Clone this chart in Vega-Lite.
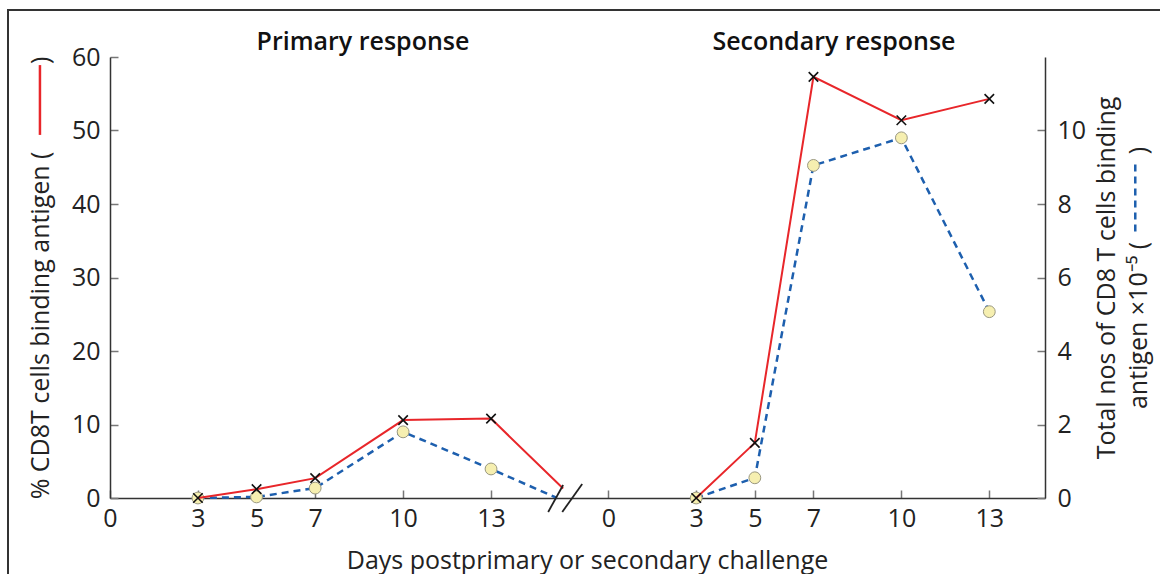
{
  "$schema": "https://vega.github.io/schema/vega-lite/v6.json",
  "width": 935,
  "height": 441,
  "autosize": "none",
  "padding": {"left": 110, "top": 57, "right": 115, "bottom": 76},
  "background": "white",
  "config": {
    "view": {"stroke": null},
    "font": "Open Sans",
    "axis": {
      "labelFont": "Open Sans",
      "titleFont": "Open Sans",
      "labelFontSize": 25,
      "titleFontSize": 25,
      "titleFontWeight": "normal",
      "labelColor": "#222",
      "titleColor": "#222",
      "domainColor": "#333",
      "domainWidth": 1.5,
      "tickColor": "#777",
      "tickWidth": 1.5,
      "tickSize": -8,
      "labelFlush": false,
      "grid": false
    },
    "axisBottom": {"ticks": true, "tickSize": -8, "tickColor": "#777", "tickWidth": 1.5}
  },
  "datasets": {
    "pct": [
      {"phase": "primary", "day": 3, "x": 3, "value": 0},
      {"phase": "primary", "day": 5, "x": 5, "value": 1.2},
      {"phase": "primary", "day": 7, "x": 7, "value": 2.7},
      {"phase": "primary", "day": 10, "x": 10, "value": 10.6},
      {"phase": "primary", "day": 13, "x": 13, "value": 10.8},
      {"phase": "primary", "day": null, "x": 15.46, "value": 1.3},
      {"phase": "secondary", "day": 3, "x": 20, "value": 0},
      {"phase": "secondary", "day": 5, "x": 22, "value": 7.5},
      {"phase": "secondary", "day": 7, "x": 24, "value": 57.3},
      {"phase": "secondary", "day": 10, "x": 27, "value": 51.4},
      {"phase": "secondary", "day": 13, "x": 30, "value": 54.3}
    ],
    "tot": [
      {"phase": "primary", "day": 3, "x": 3, "value": 0},
      {"phase": "primary", "day": 5, "x": 5, "value": 0.03},
      {"phase": "primary", "day": 7, "x": 7, "value": 0.27},
      {"phase": "primary", "day": 10, "x": 10, "value": 1.8},
      {"phase": "primary", "day": 13, "x": 13, "value": 0.79},
      {"phase": "primary", "day": null, "x": 15.25, "value": 0},
      {"phase": "secondary", "day": 3, "x": 20, "value": 0},
      {"phase": "secondary", "day": 5, "x": 22, "value": 0.55},
      {"phase": "secondary", "day": 7, "x": 24, "value": 9.05},
      {"phase": "secondary", "day": 10, "x": 27, "value": 9.8},
      {"phase": "secondary", "day": 13, "x": 30, "value": 5.07}
    ],
    "one": [{"k": 1}]
  },
  "layer": [
    {
      "layer": [
        {
          "data": {"name": "tot"},
          "mark": {"type": "line", "color": "#1d5fae", "strokeWidth": 2.5, "strokeDash": [7, 5]},
          "encoding": {
            "x": {"field": "x", "type": "quantitative", "scale": {"domain": [0, 31.9], "nice": false, "zero": false}, "title": "Days postprimary or secondary challenge",
              "axis": {"orient": "bottom", "values": [0, 3, 5, 7, 10, 13, 17, 20, 22, 24, 27, 30], "labelExpr": "datum.value >= 17 ? datum.value - 17 : datum.value", "ticks": true, "tickSize": -8, "tickColor": "#777", "tickWidth": 1.5, "labelPadding": 16, "titlePadding": 17, "titleX": 477}},
            "y": {"field": "value", "type": "quantitative", "scale": {"domain": [0, 12], "nice": false},
              "title": ["Total nos of CD8 T cells binding", "antigen  ×10⁻⁵ (\u2003\u2003\u2003\u2002)"],
              "axis": {"orient": "right", "values": [0, 2, 4, 6, 8, 10], "labelPadding": 20, "titlePadding": 2, "titleAngle": 270, "titleLineHeight": 32}},
            "detail": {"field": "phase"}
          }
        },
        {
          "data": {"name": "tot"},
          "transform": [{"filter": "isValid(datum.day)"}],
          "mark": {"type": "point", "shape": "circle", "filled": true, "fill": "#f6efb0", "stroke": "#9a9880", "strokeWidth": 1, "size": 140, "opacity": 1},
          "encoding": {
            "x": {"field": "x", "type": "quantitative"},
            "y": {"field": "value", "type": "quantitative"}
          }
        },
        {
          "data": {"name": "one"},
          "mark": {"type": "rule", "color": "#1d5fae", "strokeWidth": 2.5, "strokeDash": [7, 5]},
          "encoding": {
            "x": {"datum": 34.98, "type": "quantitative"},
            "y": {"datum": 7.25, "type": "quantitative"},
            "y2": {"datum": 9.2}
          }
        }
      ]
    },
    {
      "layer": [
        {
          "data": {"name": "pct"},
          "mark": {"type": "line", "color": "#e8262a", "strokeWidth": 2},
          "encoding": {
            "x": {"field": "x", "type": "quantitative"},
            "y": {"field": "value", "type": "quantitative", "scale": {"domain": [0, 60], "nice": false},
              "title": "% CD8T cells binding antigen (\u2003\u2003\u2003\u2002)",
              "axis": {"orient": "left", "values": [0, 10, 20, 30, 40, 50, 60], "labelPadding": 18, "titlePadding": 18}},
            "detail": {"field": "phase"}
          }
        },
        {
          "data": {"name": "pct"},
          "transform": [{"filter": "isValid(datum.day)"}],
          "mark": {"type": "point", "shape": "M-1,-1L1,1M-1,1L1,-1", "filled": false, "stroke": "#111", "strokeWidth": 1.6, "size": 90, "opacity": 1},
          "encoding": {
            "x": {"field": "x", "type": "quantitative"},
            "y": {"field": "value", "type": "quantitative"}
          }
        },
        {
          "data": {"name": "one"},
          "mark": {"type": "rule", "color": "#e8262a", "strokeWidth": 2.5},
          "encoding": {
            "x": {"datum": -2.39, "type": "quantitative"},
            "y": {"datum": 49.4, "type": "quantitative"},
            "y2": {"datum": 58.9}
          }
        },
        {
          "data": {"name": "one"},
          "mark": {"type": "rect", "filled": false, "stroke": "#333", "strokeWidth": 2},
          "encoding": {
            "x": {"datum": -3.48, "type": "quantitative"},
            "x2": {"datum": 45},
            "y": {"datum": 66.4, "type": "quantitative"},
            "y2": {"datum": -20}
          }
        },
        {
          "data": {"name": "one"},
          "mark": {"type": "rule", "color": "#222", "strokeWidth": 1.8},
          "encoding": {
            "x": {"datum": 14.95, "type": "quantitative"},
            "x2": {"datum": 15.46},
            "y": {"datum": -1.9, "type": "quantitative"},
            "y2": {"datum": 1.77}
          }
        },
        {
          "data": {"name": "one"},
          "mark": {"type": "rule", "color": "#222", "strokeWidth": 1.8},
          "encoding": {
            "x": {"datum": 15.43, "type": "quantitative"},
            "x2": {"datum": 16.11},
            "y": {"datum": -1.9, "type": "quantitative"},
            "y2": {"datum": 1.9}
          }
        },
        {
          "data": {"name": "one"},
          "mark": {"type": "text", "text": "Primary response", "font": "Open Sans", "fontSize": 25, "fontWeight": 600, "color": "#111", "align": "center", "baseline": "middle"},
          "encoding": {
            "x": {"datum": 8.63, "type": "quantitative"},
            "y": {"datum": 62, "type": "quantitative"}
          }
        },
        {
          "data": {"name": "one"},
          "mark": {"type": "text", "text": "Secondary response", "font": "Open Sans", "fontSize": 25, "fontWeight": 600, "color": "#111", "align": "center", "baseline": "middle"},
          "encoding": {
            "x": {"datum": 24.7, "type": "quantitative"},
            "y": {"datum": 62, "type": "quantitative"}
          }
        }
      ]
    }
  ],
  "resolve": {"scale": {"y": "independent"}, "axis": {"y": "independent"}}
}
